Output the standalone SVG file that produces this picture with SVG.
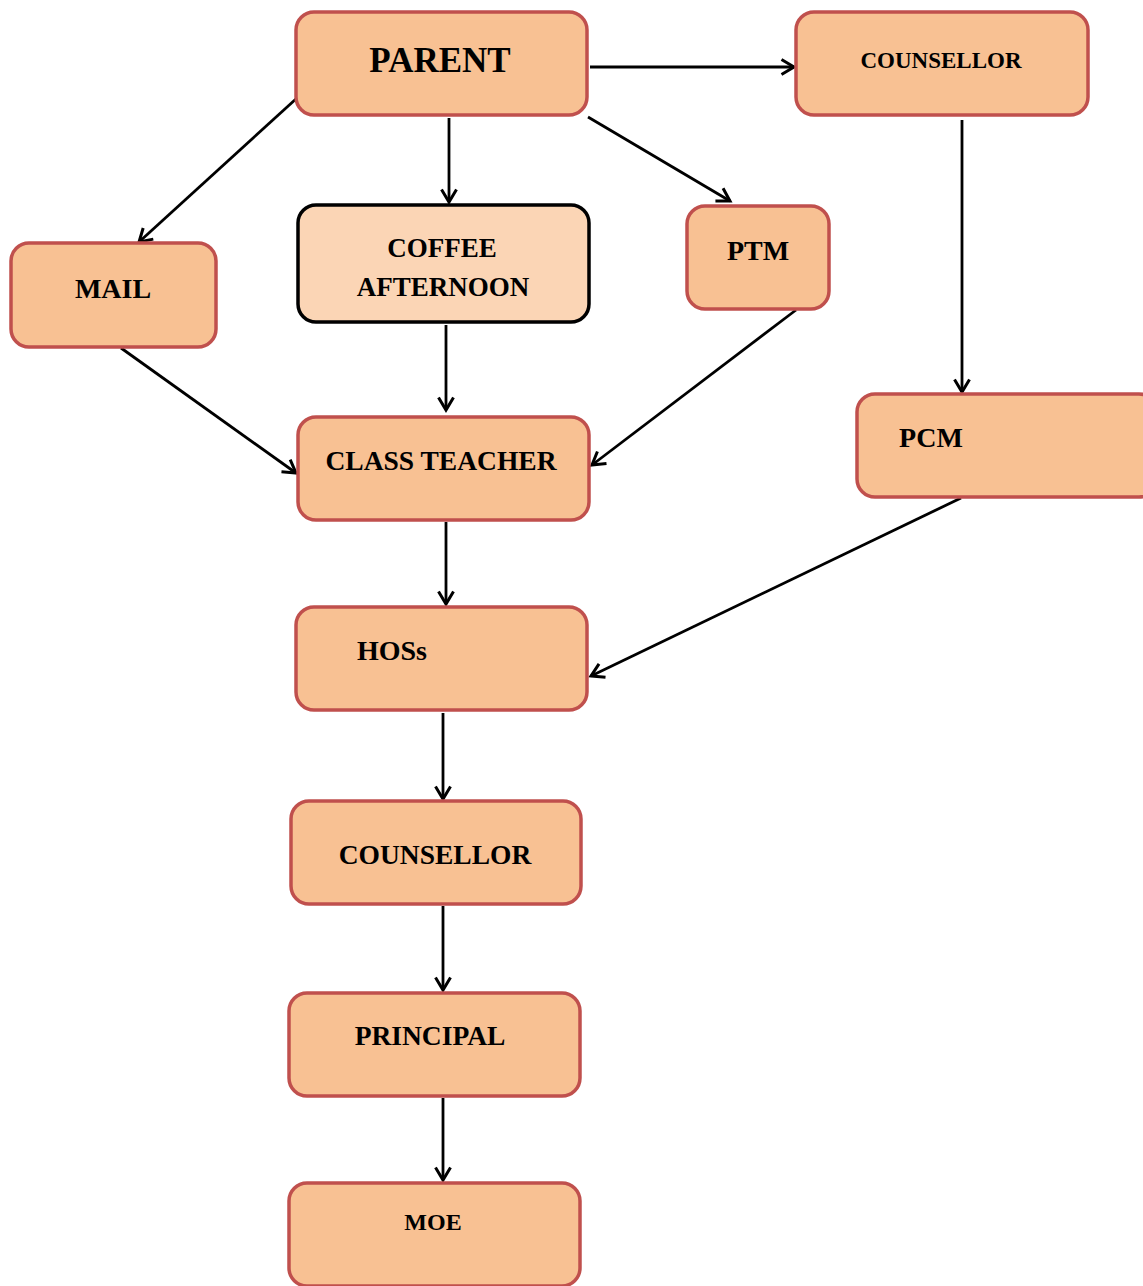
<svg xmlns="http://www.w3.org/2000/svg" width="1143" height="1286" viewBox="0 0 1143 1286">
<style>
.n{fill:#F8C193;stroke:#C0504D;stroke-width:3.5}
.c{fill:#FBD5B5;stroke:#000;stroke-width:3.5}
.t{font-family:"Liberation Serif","Times New Roman",serif;font-weight:bold;fill:#000;text-anchor:middle}
.e line{stroke:#000;stroke-width:2.8;marker-end:url(#a)}
</style>
<defs>
<marker id="a" markerUnits="userSpaceOnUse" markerWidth="22" markerHeight="22" refX="14" refY="9" orient="auto" viewBox="0 0 22 18">
<path d="M1.5,1.5 L14,9 L1.5,16.5" fill="none" stroke="#000" stroke-width="3"/>
</marker>
</defs>
<rect width="1143" height="1286" fill="#fff"/>
<g class="e" id="connectors">
<line x1="590" y1="67" x2="794" y2="67"/>
<line x1="297" y1="98" x2="139" y2="242"/>
<line x1="449" y1="118" x2="449" y2="202"/>
<line x1="588" y1="117" x2="730" y2="201"/>
<line x1="962" y1="120" x2="962" y2="392"/>
<line x1="121" y1="348" x2="296" y2="473"/>
<line x1="446" y1="325" x2="446" y2="410"/>
<line x1="796" y1="310" x2="592" y2="465"/>
<line x1="446" y1="522" x2="446" y2="604"/>
<line x1="961" y1="498" x2="591" y2="676"/>
<line x1="443" y1="713" x2="443" y2="799"/>
<line x1="443" y1="906" x2="443" y2="990"/>
<line x1="443" y1="1098" x2="443" y2="1180"/>
</g>
<g id="parent"><rect class="n" x="296" y="12" width="291" height="103" rx="18"/><text class="t" x="440" y="72" font-size="35">PARENT</text></g>
<g id="counsellor-top"><rect class="n" x="796" y="12" width="292" height="103" rx="18"/><text class="t" x="941" y="68" font-size="23">COUNSELLOR</text></g>
<g id="mail"><rect class="n" x="11" y="243" width="205" height="104" rx="18"/><text class="t" x="113" y="298" font-size="28">MAIL</text></g>
<g id="coffee"><rect class="c" x="298" y="205" width="291" height="117" rx="18"/><text class="t" x="442" y="257" font-size="27">COFFEE</text><text class="t" x="443" y="296" font-size="27">AFTERNOON</text></g>
<g id="ptm"><rect class="n" x="687" y="206" width="142" height="103" rx="18"/><text class="t" x="758" y="260" font-size="28">PTM</text></g>
<g id="pcm"><rect class="n" x="857" y="394" width="300" height="103" rx="18"/><text class="t" x="931" y="447" font-size="28">PCM</text></g>
<g id="class-teacher"><rect class="n" x="298" y="417" width="291" height="103" rx="18"/><text class="t" x="441" y="470" font-size="27.5">CLASS TEACHER</text></g>
<g id="hoss"><rect class="n" x="296" y="607" width="291" height="103" rx="18"/><text class="t" x="392" y="660" font-size="28">HOSs</text></g>
<g id="counsellor"><rect class="n" x="291" y="801" width="290" height="103" rx="18"/><text class="t" x="435" y="864" font-size="27.5">COUNSELLOR</text></g>
<g id="principal"><rect class="n" x="289" y="993" width="291" height="103" rx="18"/><text class="t" x="430" y="1045" font-size="27.5">PRINCIPAL</text></g>
<g id="moe"><rect class="n" x="289" y="1183" width="291" height="103" rx="18"/><text class="t" x="433" y="1230" font-size="24">MOE</text></g>
</svg>
